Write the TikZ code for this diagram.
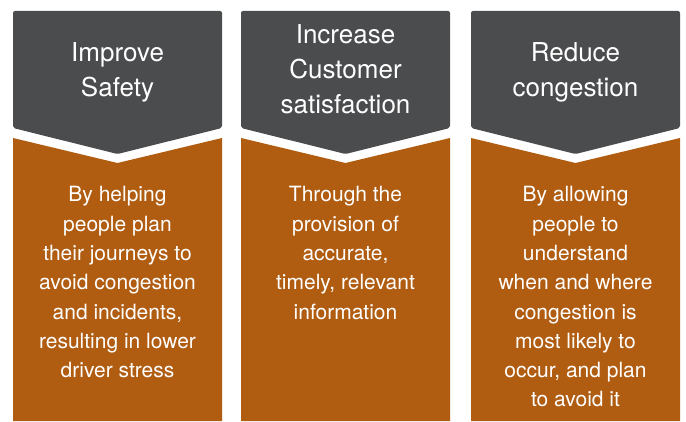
\documentclass[tikz,border=0pt]{standalone}
\usepackage{fontspec}
\setmainfont{TeX Gyre Heros}
\definecolor{headgray}{RGB}{75,76,78}
\definecolor{bodyorange}{RGB}{176,92,17}

\begin{document}
\begin{tikzpicture}[x=1pt, y=1pt,
    head/.style={text=white, align=center, font=\fontsize{26}{35}\selectfont},
    body/.style={text=white, align=center, anchor=north, font=\fontsize{21}{29.3}\selectfont}]
    \useasboundingbox (0,0) rectangle (686,421);

    % Columns: chevron header and box below
    \foreach \x in {13, 241, 471} {
        \fill[headgray, rounded corners=2pt] (\x,410) -- (\x+209,410) -- (\x+209,293) -- (\x+104.5,267) -- (\x,293) -- cycle;
        \fill[bodyorange] (\x,0) -- (\x,283) -- (\x+104.5,258) -- (\x+209,283) -- (\x+209,0) -- cycle;
    }

    % Headers
    \node[head] (safety) at (117.5,349) {Improve\\Safety};
    \node[head] (satisfaction) at (345.5,351.5) {Increase\\Customer\\satisfaction};
    \node[head] (congestion) at (575.5,349) {Reduce\\congestion};

    % Texts
    \node[body] (safetytext) at (117.5,238) {By helping\\people plan\\their journeys to\\avoid congestion\\and incidents,\\resulting in lower\\driver stress};
    \node[body] (satisfactiontext) at (345.5,238) {Through the\\provision of\\accurate,\\timely, relevant\\information};
    \node[body] (congestiontext) at (575.5,238) {By allowing\\people to\\understand\\when and where\\congestion is\\most likely to\\occur, and plan\\to avoid it};

\end{tikzpicture}
\end{document}
